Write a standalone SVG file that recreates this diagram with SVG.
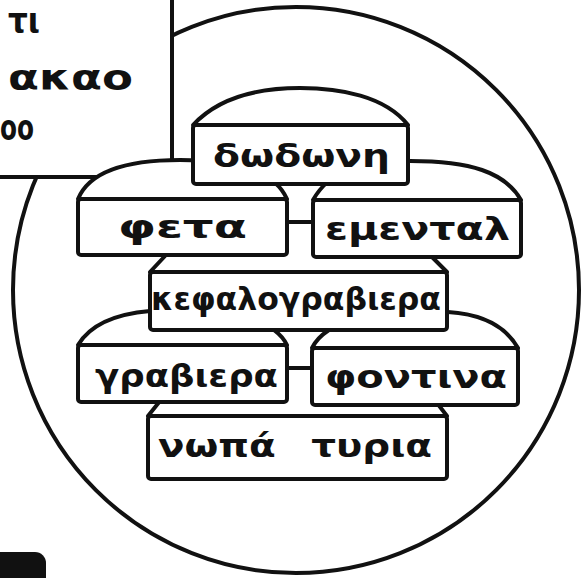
<svg xmlns="http://www.w3.org/2000/svg" width="582" height="578" viewBox="0 0 582 578">
<style>
.ln{fill:none;stroke:#111;stroke-width:4;stroke-linejoin:round;stroke-linecap:round}
.sh{fill:#fff;stroke:#111;stroke-width:4;stroke-linejoin:round}
.lbl{font-family:"DejaVu Sans","Liberation Sans",sans-serif;font-weight:bold;font-size:32px;fill:#111}
.big{font-size:36px}
</style>
<rect x="0" y="0" width="582" height="578" fill="#fff"/>
<g id="circle">
<circle cx="296" cy="290" r="283" class="ln"/>
</g>
<g id="textbox">
<rect x="-10" y="-10" width="182" height="187" class="sh"/>
<text class="lbl big" x="8" y="33" textLength="32" lengthAdjust="spacingAndGlyphs">τι</text>
<text class="lbl big" x="8" y="90" textLength="125" lengthAdjust="spacingAndGlyphs">ακαο</text>
<text class="lbl big" x="0" y="140" textLength="34" lengthAdjust="spacingAndGlyphs">οο</text>
</g>
<g id="blackmark">
<rect x="-12" y="552" width="58" height="40" rx="11" fill="#111"/>
</g>
<g id="node-nopa-tyria">
<path class="ln" d="M148,416 L160,401 M437,403 L447,416"/>
<rect x="148" y="416" width="299" height="63" rx="3" class="sh"/>
<text class="lbl" x="158" y="457" word-spacing="18" textLength="274" lengthAdjust="spacingAndGlyphs">νωπά τυρια</text>
</g>
<g id="node-graviera">
<path class="sh" d="M78,345 C90,325 115,314 150,311 C230,306 275,320 287,345 Z"/>
<rect x="78" y="345" width="209" height="57" rx="3" class="sh"/>
<text class="lbl" x="95" y="387" textLength="183" lengthAdjust="spacingAndGlyphs">γραβιερα</text>
</g>
<g id="node-fontina">
<path class="sh" d="M312,348 C325,322 370,308 448,312 C480,314 505,325 518,348 Z"/>
<rect x="312" y="348" width="206" height="57" rx="3" class="sh"/>
<text class="lbl" x="325" y="388" textLength="182" lengthAdjust="spacingAndGlyphs">φοντινα</text>
</g>
<g id="node-kefalograviera">
<path class="ln" d="M150,272 L165,256 M432,257 L447,272"/>
<rect x="150" y="272" width="297" height="58" rx="3" class="sh"/>
<text class="lbl" x="151" y="310" font-size="30" textLength="290" lengthAdjust="spacingAndGlyphs">κεφαλογραβιερα</text>
</g>
<g id="node-feta">
<path class="sh" d="M78,199 C90,170 130,160 180,160 C240,160 275,172 287,199 Z"/>
<rect x="78" y="199" width="209" height="56" rx="3" class="sh"/>
<text class="lbl" x="118" y="238" textLength="129" lengthAdjust="spacingAndGlyphs">φετα</text>
</g>
<g id="node-emental">
<path class="sh" d="M313,200 C330,170 360,161 410,161 C470,161 505,172 521,200 Z"/>
<rect x="313" y="200" width="208" height="57" rx="3" class="sh"/>
<text class="lbl" x="325" y="240" textLength="185" lengthAdjust="spacingAndGlyphs">εμενταλ</text>
</g>
<g id="node-dodoni">
<path class="sh" d="M193,125 C220,96 260,88 300,88 C340,88 385,96 408,125 Z"/>
<rect x="193" y="125" width="215" height="59" rx="3" class="sh"/>
<text class="lbl" x="213" y="167" textLength="177" lengthAdjust="spacingAndGlyphs">δωδωνη</text>
</g>
<g id="connectors">
<line class="ln" x1="287" y1="222" x2="313" y2="222"/>
<line class="ln" x1="287" y1="368" x2="312" y2="368"/>
</g>
</svg>
